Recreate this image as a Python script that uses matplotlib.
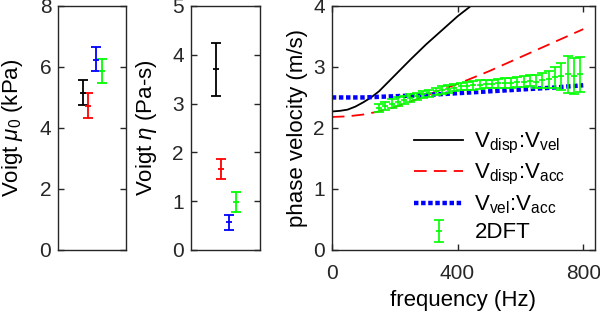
import numpy as np
import matplotlib
matplotlib.use('Agg')
import matplotlib.pyplot as plt

plt.rcParams['font.family'] = ['Liberation Sans', 'DejaVu Sans']
plt.rcParams['mathtext.fontset'] = 'custom'
plt.rcParams['mathtext.rm'] = 'Liberation Sans'
plt.rcParams['mathtext.it'] = 'Liberation Sans:italic'

# Voigt fits (4 methods): position, value, error bar ends
methods = ['disp:vel', 'disp:acc', 'vel:acc', '2DFT']
colors = ['black', 'red', 'blue', '#00ff00']
xpos = [0.37, 0.44, 0.56, 0.65]
mu0 = [5.16, 4.73, 6.24, 5.88]
mu0_lo = [4.75, 4.32, 5.88, 5.48]
mu0_hi = [5.58, 5.14, 6.64, 6.27]
eta = [3.70, 1.66, 0.57, 0.98]
eta_lo = [3.16, 1.45, 0.40, 0.78]
eta_hi = [4.25, 1.87, 0.71, 1.19]

# model curves
f_model = [0, 25, 50, 75, 100, 125, 150, 175, 200, 250, 300, 350, 400, 450, 500]
v_disp_vel = [2.27, 2.28, 2.30, 2.35, 2.42, 2.50, 2.60, 2.73, 2.86, 3.12, 3.37, 3.60, 3.83, 4.03, 4.22]
f_model2 = [0, 50, 100, 150, 200, 250, 300, 350, 400, 500, 600, 700, 800]
v_disp_acc = [2.18, 2.19, 2.22, 2.27, 2.34, 2.43, 2.53, 2.63, 2.72, 2.93, 3.16, 3.39, 3.62]
v_vel_acc = [2.50, 2.50, 2.50, 2.51, 2.52, 2.53, 2.54, 2.555, 2.57, 2.60, 2.63, 2.66, 2.70]

# 2DFT phase velocity
f_2dft = [150, 170, 190, 210, 230, 250, 270, 290, 310, 330, 350, 370, 390, 410, 430, 450,
          470, 490, 510, 530, 550, 570, 590, 610, 630, 650, 670, 690, 710, 730, 750, 770, 790]
v_2dft = [2.33, 2.36, 2.40, 2.43, 2.46, 2.49, 2.52, 2.55, 2.57, 2.60, 2.62, 2.64, 2.66, 2.68,
          2.69, 2.70, 2.71, 2.72, 2.72, 2.73, 2.74, 2.74, 2.75, 2.76, 2.77, 2.76, 2.78, 2.80,
          2.83, 2.85, 2.88, 2.85, 2.88]
e_2dft = [0.07, 0.07, 0.07, 0.07, 0.07, 0.06, 0.06, 0.06, 0.06, 0.06, 0.06, 0.06, 0.06, 0.06,
          0.06, 0.07, 0.07, 0.07, 0.07, 0.07, 0.08, 0.08, 0.08, 0.09, 0.09, 0.10, 0.12, 0.14,
          0.17, 0.22, 0.30, 0.30, 0.29]

fig = plt.figure(figsize=(6, 3.14), dpi=100)
ax1 = fig.add_axes([0.097, 0.204, 0.113, 0.777])
ax2 = fig.add_axes([0.318, 0.204, 0.115, 0.777])
ax3 = fig.add_axes([0.553, 0.204, 0.439, 0.777])

tick_fs = 15
label_fs = 16

def style(ax):
    for s in ax.spines.values():
        s.set_color('#262626')
        s.set_linewidth(1.0)
    ax.tick_params(direction='in', length=4, width=1, colors='#262626',
                   labelsize=tick_fs, top=True, right=True, pad=5)
    ax.tick_params(axis='x', pad=10)

# panel 1
for i in range(4):
    ax1.errorbar(xpos[i], mu0[i], yerr=[[mu0[i] - mu0_lo[i]], [mu0_hi[i] - mu0[i]]],
                 color=colors[i], capsize=3.5, elinewidth=1.3, capthick=1.3,
                 marker='_', markersize=5, mew=1.3)
ax1.set_xlim(0, 1)
ax1.set_ylim(0, 8)
ax1.set_xticks([])
ax1.set_yticks([0, 2, 4, 6, 8])
ax1.set_ylabel(r'Voigt $\mu_0$ (kPa)', fontsize=label_fs)
style(ax1)
ax1.yaxis.set_label_coords(-0.49, 0.5)

# panel 2
for i in range(4):
    ax2.errorbar(xpos[i], eta[i], yerr=[[eta[i] - eta_lo[i]], [eta_hi[i] - eta[i]]],
                 color=colors[i], capsize=3.5, elinewidth=1.3, capthick=1.3,
                 marker='_', markersize=5, mew=1.3)
ax2.set_xlim(0, 1)
ax2.set_ylim(0, 5)
ax2.set_xticks([])
ax2.set_yticks([0, 1, 2, 3, 4, 5])
ax2.set_ylabel(r'Voigt $\eta$ (Pa-s)', fontsize=label_fs)
style(ax2)
ax2.yaxis.set_label_coords(-0.46, 0.5)

# panel 3
ax3.plot(f_model, v_disp_vel, color='black', lw=1.3,
         label=r'V$_{\mathrm{disp}}$:V$_{\mathrm{vel}}$')
ax3.plot(f_model2, v_disp_acc, color='red', lw=1.3, dashes=(7, 4),
         label=r'V$_{\mathrm{disp}}$:V$_{\mathrm{acc}}$')
ax3.plot(f_model2, v_vel_acc, color='blue', lw=3.2, dashes=(1, 0.6), dash_capstyle='butt',
         label=r'V$_{\mathrm{vel}}$:V$_{\mathrm{acc}}$')
ax3.errorbar(f_2dft, v_2dft, yerr=e_2dft, color='#00ff00', ls='none', capsize=3.5,
             elinewidth=1.2, capthick=1.2, marker='_', markersize=4, mew=1.2, label='2DFT')
ax3.set_xlim(0, 838)
ax3.set_ylim(0, 4)
ax3.set_xticks([0, 400, 800])
ax3.set_yticks([0, 1, 2, 3, 4])
ax3.set_xlabel('frequency (Hz)', fontsize=label_fs, labelpad=5)
ax3.set_ylabel('phase velocity (m/s)', fontsize=label_fs)
style(ax3)
ax3.yaxis.set_label_coords(-0.09, 0.5)
ax3.legend(loc='lower left', bbox_to_anchor=(0.28, -0.01), frameon=False, fontsize=16,
           handlelength=2.2, handletextpad=0.5, labelspacing=0.28, borderaxespad=0)

fig.savefig('out.png', dpi=100)
